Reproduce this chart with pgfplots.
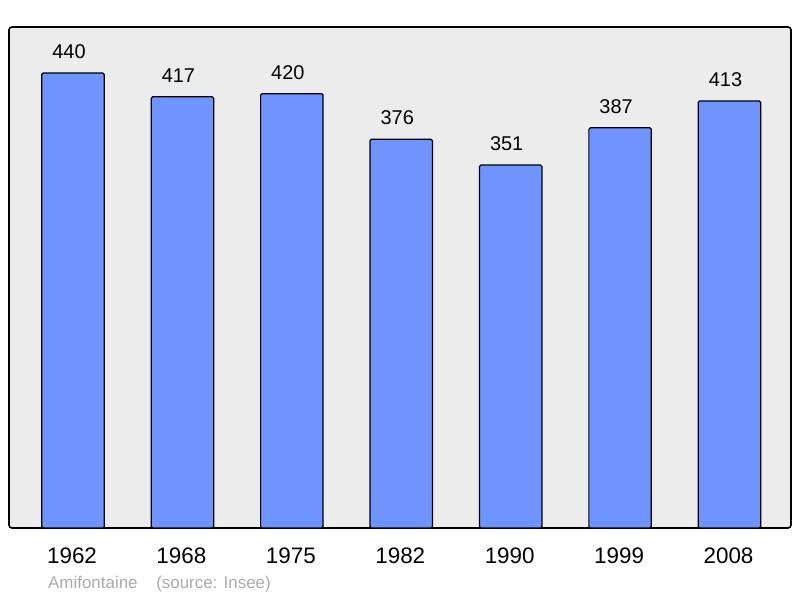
\documentclass[border=0pt]{standalone}
\usepackage{pgfplots}
\pgfplotsset{compat=1.18}
\usepackage{fontspec}
\setmainfont{Liberation Sans}
\definecolor{cBar}{HTML}{7094FF}
\definecolor{cBg}{HTML}{ECECEC}
\definecolor{cSrc}{HTML}{AAAAAA}
\begin{document}
\begin{tikzpicture}[x=1bp,y=1bp]
\useasboundingbox (0,0) rectangle (800,598);
\begin{axis}[at={(9bp,70bp)},anchor=south west,
    scale only axis,width=782bp,height=501bp,
    ybar,bar width=0.571,
    xmin=-0.585,xmax=6.562,ymin=0,ymax=484.5,
    axis line style={draw=none},
    axis background/.style={fill=cBg,draw=black,line width=1.6bp,rounded corners=3bp},
    xtick=data,xticklabels={1962,1968,1975,1982,1990,1999,2008},
    ytick=\empty,major tick length=0pt,
    xticklabel style={font=\fontsize{22.5}{26}\selectfont,anchor=base,yshift=-36bp,xshift=-1bp},
    /pgf/number format/assume math mode=true,
    nodes near coords,
    every node near coord/.append style={font=\fontsize{20}{24}\selectfont,anchor=base,inner sep=0pt,yshift=14.5bp,xshift=-4bp},
    ]
\addplot[fill=cBar,draw=black,line width=1.2bp,rounded corners=1.5bp] coordinates {
  (0,440) (1,417) (2,420) (3,376) (4,351) (5,387) (6,413)};
\end{axis}
\node[anchor=base west,inner sep=0pt,text=cSrc,font=\fontsize{17}{20}\selectfont] at (48,9)
  {Amifontaine\hspace{1.1em}(source: Insee)};
\end{tikzpicture}
\end{document}
